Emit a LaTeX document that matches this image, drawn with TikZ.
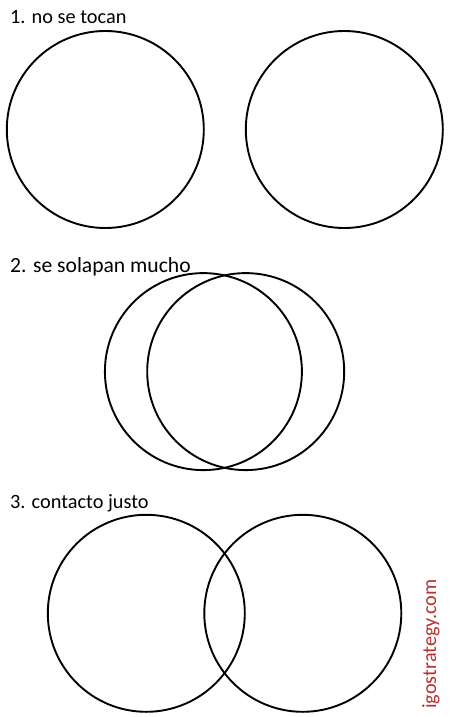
\documentclass[tikz,border=0pt]{standalone}
\usepackage{fontspec}
\setmainfont{Carlito}
\definecolor{wmred}{HTML}{B8312F}
\begin{document}
\begin{tikzpicture}[x=1pt,y=-1pt,
  ring/.style={draw=black,line width=1.9pt,circle,inner sep=0pt,minimum size=197pt},
  caption/.style={anchor=base west,inner sep=0pt,font=\fontsize{20.3}{24}\selectfont}]
\useasboundingbox (0,0) rectangle (454,717);
\node[caption] (t1) at (10,24) {1. no se tocan};
\node[caption,font=\fontsize{21.6}{26}\selectfont] (t2) at (10,272) {2. se solapan mucho};
\node[caption] (t3) at (10,508) {3. contacto justo};
\node[ring] (a1) at (105.3,129.5) {};
\node[ring] (a2) at (344.3,129.5) {};
\node[ring] (b1) at (203.4,371.6) {};
\node[ring] (b2) at (245.7,371.6) {};
\node[ring] (c1) at (146.3,613.3) {};
\node[ring] (c2) at (302.8,613.3) {};
\node[rotate=90,inner sep=0pt,text=wmred,font=\fontsize{20.2}{24}\selectfont] (wm) at (431,644) {igostrategy.com};
\end{tikzpicture}
\end{document}
